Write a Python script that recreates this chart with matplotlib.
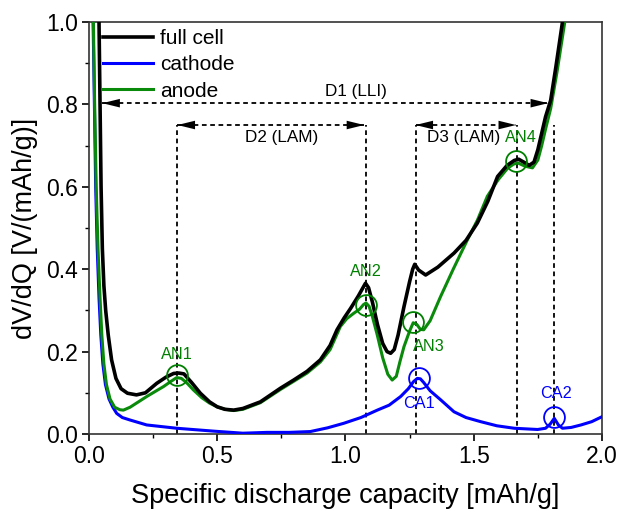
import matplotlib
matplotlib.use("Agg")
import matplotlib.pyplot as plt
from matplotlib.ticker import MultipleLocator

plt.rcParams['font.family'] = ['Liberation Sans', 'DejaVu Sans']

# full cell dV/dQ
full_x = [0.039, 0.043, 0.047, 0.052, 0.058, 0.065, 0.075, 0.088, 0.105, 0.125, 0.15, 0.185,
          0.22, 0.264, 0.30, 0.33, 0.35, 0.37, 0.40, 0.434, 0.47, 0.50, 0.53, 0.564, 0.60,
          0.668, 0.746, 0.798, 0.85, 0.902, 0.94, 0.967, 0.995, 1.02, 1.05, 1.068, 1.078, 1.09,
          1.105, 1.125, 1.145, 1.162, 1.176, 1.19, 1.205, 1.228, 1.25, 1.262, 1.27, 1.285,
          1.3125, 1.36, 1.423, 1.47, 1.514, 1.555, 1.593, 1.63, 1.658, 1.675, 1.695, 1.716,
          1.735, 1.75, 1.765, 1.78, 1.80, 1.82, 1.846]
full_y = [1.0, 0.8, 0.6, 0.45, 0.36, 0.30, 0.24, 0.18, 0.135, 0.11, 0.099, 0.095,
          0.10, 0.123, 0.138, 0.147, 0.148, 0.146, 0.125, 0.099, 0.078, 0.066, 0.06, 0.058, 0.062,
          0.078, 0.111, 0.131, 0.152, 0.18, 0.215, 0.253, 0.282, 0.305, 0.335, 0.355, 0.366, 0.355,
          0.32, 0.265, 0.22, 0.2, 0.196, 0.205, 0.24, 0.309, 0.37, 0.40, 0.412, 0.398,
          0.386, 0.405, 0.439, 0.47, 0.512, 0.565, 0.625, 0.652, 0.664, 0.667, 0.66, 0.652,
          0.66, 0.69, 0.73, 0.77, 0.81, 0.89, 1.0]

# anode
an_x = [0.017, 0.022, 0.028, 0.035, 0.043, 0.05, 0.058, 0.068, 0.082, 0.10, 0.12, 0.134,
        0.16, 0.19, 0.225, 0.26, 0.29, 0.32, 0.342, 0.36, 0.38, 0.407, 0.44, 0.47, 0.50,
        0.53, 0.564, 0.60, 0.668, 0.746, 0.798, 0.85, 0.902, 0.94, 0.98, 1.005, 1.032,
        1.055, 1.07, 1.08, 1.092, 1.105, 1.124, 1.145, 1.165, 1.182, 1.198, 1.212, 1.228,
        1.25, 1.264, 1.278, 1.292, 1.305, 1.33, 1.371, 1.42, 1.475, 1.515, 1.553, 1.595,
        1.632, 1.655, 1.672, 1.70, 1.729, 1.75, 1.765, 1.78, 1.80, 1.825, 1.855]
an_y = [1.0, 0.8, 0.6, 0.45, 0.33, 0.24, 0.17, 0.12, 0.085, 0.065, 0.059, 0.058,
        0.065, 0.077, 0.091, 0.104, 0.115, 0.128, 0.137, 0.135, 0.125, 0.107, 0.088, 0.075, 0.066,
        0.06, 0.057, 0.06, 0.076, 0.108, 0.128, 0.148, 0.175, 0.205, 0.261, 0.28, 0.293,
        0.303, 0.314, 0.318, 0.31, 0.285, 0.24, 0.185, 0.145, 0.131, 0.14, 0.175, 0.212,
        0.25, 0.27, 0.266, 0.254, 0.253, 0.275, 0.334, 0.40, 0.471, 0.52, 0.577, 0.617,
        0.645, 0.655, 0.658, 0.65, 0.646, 0.665, 0.70, 0.74, 0.79, 0.88, 1.0]

# cathode
ca_x = [0.016, 0.021, 0.026, 0.032, 0.039, 0.046, 0.054, 0.064, 0.078, 0.093, 0.108, 0.13,
        0.16, 0.225, 0.342, 0.486, 0.6, 0.694, 0.78, 0.863, 0.93, 0.993, 1.06, 1.124,
        1.17, 1.215, 1.245, 1.265, 1.28, 1.292, 1.305, 1.33, 1.371, 1.423, 1.47, 1.527, 1.59,
        1.658, 1.749, 1.78, 1.798, 1.814, 1.83, 1.846, 1.88, 1.918, 1.96, 2.0]
ca_y = [1.0, 0.8, 0.6, 0.45, 0.33, 0.24, 0.17, 0.12, 0.085, 0.065, 0.05, 0.04,
        0.034, 0.022, 0.014, 0.007, 0.002, 0.004, 0.004, 0.006, 0.015, 0.026, 0.04, 0.058,
        0.07, 0.091, 0.11, 0.127, 0.135, 0.134, 0.125, 0.105, 0.083, 0.054, 0.04, 0.03, 0.02,
        0.014, 0.011, 0.014, 0.024, 0.038, 0.022, 0.014, 0.016, 0.022, 0.03, 0.042]

# peak markers
peak_names = ["AN1", "AN2", "AN3", "AN4", "CA1", "CA2"]
peak_x = [0.342, 1.078, 1.264, 1.664, 1.286, 1.814]
peak_y = [0.143, 0.313, 0.273, 0.662, 0.135, 0.042]
peak_lx = [0.342, 1.078, 1.325, 1.684, 1.286, 1.82]
peak_ly = [0.194, 0.394, 0.212, 0.719, 0.075, 0.099]
peak_col = ["green", "green", "green", "green", "blue", "blue"]

# vertical guide lines
guide_x = [0.345, 1.078, 1.273, 1.67, 1.813]
guide_top = 0.75

# distance arrows
dist_names = ["D1 (LLI)", "D2 (LAM)", "D3 (LAM)"]
dist_x0 = [0.052, 0.345, 1.273]
dist_x1 = [1.79, 1.073, 1.665]
dist_y = [0.803, 0.75, 0.75]
dist_lx = [1.039, 0.75, 1.462]
dist_ly = [0.832, 0.719, 0.719]

green = "#0a8a0a"
blue = "#0000ff"

fig = plt.figure(figsize=(6.19, 5.12), dpi=100)
ax = fig.add_axes([0.1438, 0.1523, 0.8287, 0.8047])

ax.plot(ca_x, ca_y, color=blue, lw=2.2, label="cathode", zorder=3)
ax.plot(an_x, an_y, color=green, lw=2.2, label="anode", zorder=4)
ax.plot(full_x, full_y, color="black", lw=2.6, label="full cell", zorder=5)

for gx in guide_x:
    ax.plot([gx, gx], [0, guide_top], color="black", lw=1.3, dashes=(2.6, 2.0), zorder=2)

for i in range(len(dist_names)):
    ax.plot([dist_x0[i], dist_x1[i]], [dist_y[i], dist_y[i]], color="black", lw=1.3,
            dashes=(2.6, 2.0), zorder=2)
    for xa, xb in [(dist_x0[i], dist_x0[i] + 0.03), (dist_x1[i], dist_x1[i] - 0.03)]:
        ax.annotate("", xy=(xa, dist_y[i]), xytext=(xb, dist_y[i]),
                    arrowprops=dict(arrowstyle="-|>,head_length=0.9,head_width=0.22",
                                    color="black", lw=0.01, shrinkA=0, shrinkB=0,
                                    mutation_scale=14), zorder=6)
    ax.text(dist_lx[i], dist_ly[i], dist_names[i], fontsize=12.3, ha="center", va="center",
            zorder=7)

for i in range(len(peak_names)):
    ax.plot(peak_x[i], peak_y[i], marker="o", ms=15, mfc="none", mec=peak_col[i],
            mew=1.3, zorder=6)
    ax.text(peak_lx[i], peak_ly[i], peak_names[i], color=peak_col[i], fontsize=11.7,
            ha="center", va="center", zorder=7)

ax.set_xlim(0, 2.0)
ax.set_ylim(0, 1.0)
ax.xaxis.set_major_locator(MultipleLocator(0.5))
ax.xaxis.set_minor_locator(MultipleLocator(0.25))
ax.yaxis.set_major_locator(MultipleLocator(0.2))
ax.yaxis.set_minor_locator(MultipleLocator(0.1))
ax.tick_params(which="major", direction="out", length=5, width=1.2, labelsize=16.5, pad=3)
ax.tick_params(which="minor", direction="out", length=3, width=1.0)
for s in ax.spines.values():
    s.set_linewidth(1.2)
    s.set_color("#333333")

ax.set_xlabel("Specific discharge capacity [mAh/g]", fontsize=19.5, labelpad=11)
ax.set_ylabel("dV/dQ [V/(mAh/g)]", fontsize=19.5, labelpad=6)

handles, labels = ax.get_legend_handles_labels()
order = [2, 0, 1]
ax.legend([handles[k] for k in order], [labels[k] for k in order], loc="upper left",
          frameon=False, fontsize=15, handlelength=2.4, handletextpad=0.3,
          labelspacing=0.35, borderaxespad=0.0, borderpad=0.2,
          bbox_to_anchor=(0.02, 0.993))

fig.savefig("out.png", dpi=100)
